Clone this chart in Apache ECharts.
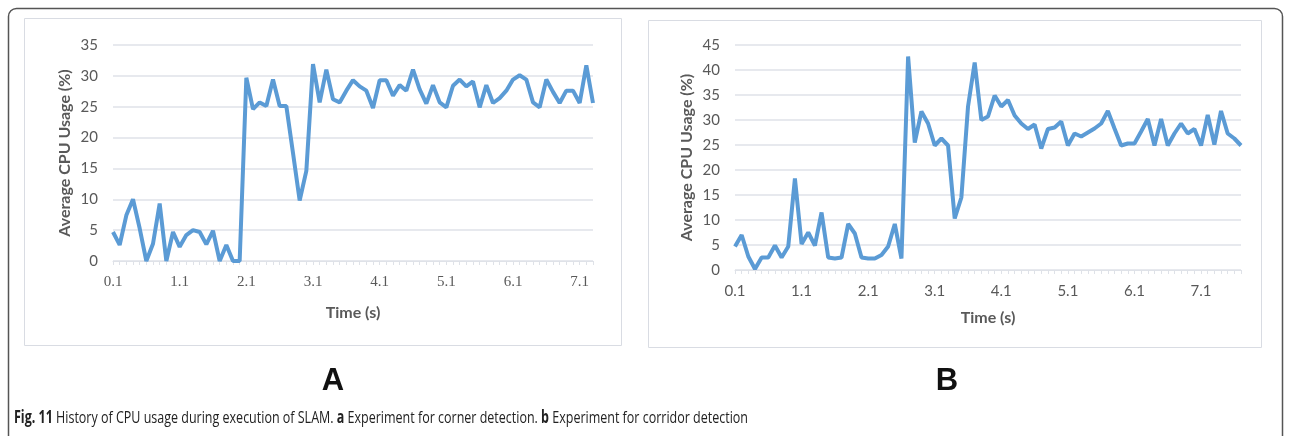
<!DOCTYPE html>
<html>
<head>
<meta charset="utf-8">
<title>CPU usage during SLAM</title>
<script src="https://cdn.jsdelivr.net/npm/echarts@6/dist/echarts.min.js"></script>
<style>
  html, body { margin: 0; padding: 0; background: #fff; }
  #chart { width: 1291px; height: 436px; }
</style>
</head>
<body>
<div id="chart"></div>
<script>
// time axis (s) and CPU usage (%) for the two experiments
const timesA = ['0.1', '0.2', '0.3', '0.4', '0.5', '0.6', '0.7', '0.8', '0.9', '1.0',
  '1.1', '1.2', '1.3', '1.4', '1.5', '1.6', '1.7', '1.8', '1.9', '2.0',
  '2.1', '2.2', '2.3', '2.4', '2.5', '2.6', '2.7', '2.8', '2.9', '3.0',
  '3.1', '3.2', '3.3', '3.4', '3.5', '3.6', '3.7', '3.8', '3.9', '4.0',
  '4.1', '4.2', '4.3', '4.4', '4.5', '4.6', '4.7', '4.8', '4.9', '5.0',
  '5.1', '5.2', '5.3', '5.4', '5.5', '5.6', '5.7', '5.8', '5.9', '6.0',
  '6.1', '6.2', '6.3', '6.4', '6.5', '6.6', '6.7', '6.8', '6.9', '7.0',
  '7.1', '7.2', '7.3']
const cpuA = [4.7, 2.6, 7.4, 10, 5.3, 0, 2.8, 9.3, 0, 4.7,
  2.3, 4.2, 5, 4.7, 2.7, 4.9, 0, 2.6, 0, 0,
  29.7, 24.6, 25.7, 25.1, 29.4, 25.1, 25.1, 17.5, 9.8, 14.6,
  31.9, 25.7, 31, 26.2, 25.7, 27.6, 29.3, 28.3, 27.6, 24.8,
  29.3, 29.3, 26.8, 28.5, 27.6, 31, 27.8, 25.5, 28.5, 25.7,
  24.9, 28.4, 29.4, 28.3, 29.1, 24.9, 28.5, 25.6, 26.4, 27.6,
  29.4, 30.1, 29.4, 25.7, 24.9, 29.4, 27.4, 25.6, 27.6, 27.6,
  25.6, 31.7, 25.6]

const timesB = ['0.1', '0.2', '0.3', '0.4', '0.5', '0.6', '0.7', '0.8', '0.9', '1.0',
  '1.1', '1.2', '1.3', '1.4', '1.5', '1.6', '1.7', '1.8', '1.9', '2.0',
  '2.1', '2.2', '2.3', '2.4', '2.5', '2.6', '2.7', '2.8', '2.9', '3.0',
  '3.1', '3.2', '3.3', '3.4', '3.5', '3.6', '3.7', '3.8', '3.9', '4.0',
  '4.1', '4.2', '4.3', '4.4', '4.5', '4.6', '4.7', '4.8', '4.9', '5.0',
  '5.1', '5.2', '5.3', '5.4', '5.5', '5.6', '5.7', '5.8', '5.9', '6.0',
  '6.1', '6.2', '6.3', '6.4', '6.5', '6.6', '6.7', '6.8', '6.9', '7.0',
  '7.1', '7.2', '7.3', '7.4', '7.5', '7.6', '7.7']
const cpuB = [4.7, 7, 2.7, 0.2, 2.5, 2.5, 4.9, 2.5, 4.7, 18.3,
  5.2, 7.5, 4.9, 11.5, 2.5, 2.3, 2.5, 9.2, 7.3, 2.5,
  2.3, 2.3, 3, 4.7, 9.2, 2.3, 42.7, 25.5, 31.7, 29.3,
  24.9, 26.3, 24.9, 10.3, 14.5, 32.7, 41.5, 30, 30.7, 34.9,
  32.7, 34, 30.9, 29.3, 28.2, 29.1, 24.3, 28.2, 28.5, 29.7,
  24.9, 27.3, 26.7, 27.5, 28.3, 29.3, 31.8, 28.3, 24.9, 25.3,
  25.3, 27.7, 30.2, 24.9, 30.2, 24.9, 27.3, 29.3, 27.3, 28.2,
  24.9, 31, 25.1, 31.8, 27.3, 26.3, 24.9]

const xName = 'Time (s)'
const yName = 'Average CPU Usage (%)'

const lineColor = '#5b9bd5'
const textColor = '#595959'
const gridColor = '#dfe2e8'
const panelColor = '#d9dce3'

function xAxisFor(gridIndex, data, labelFont, nameGap) {
  return {
    type: 'category',
    gridIndex,
    data,
    boundaryGap: false,
    name: xName,
    nameLocation: 'middle',
    nameGap,
    nameTextStyle: { color: textColor, fontFamily: 'Lato', fontWeight: 'bold', fontSize: 16 },
    axisLine: { lineStyle: { color: gridColor, width: 1 } },
    axisTick: { show: true, interval: 0, length: 4, lineStyle: { color: gridColor } },
    axisLabel: { interval: 9, margin: 14, color: textColor, fontFamily: labelFont, fontSize: 15 },
    splitLine: { show: false }
  }
}

function yAxisFor(gridIndex, max) {
  return {
    type: 'value',
    gridIndex,
    min: 0,
    max,
    interval: 5,
    name: yName,
    nameLocation: 'middle',
    nameGap: 40,
    nameTextStyle: { color: textColor, fontFamily: 'Lato', fontWeight: 'bold', fontSize: 16 },
    axisLine: { show: false },
    axisTick: { show: false },
    axisLabel: { margin: 15, color: textColor, fontFamily: 'Lato', fontSize: 15 },
    splitLine: { lineStyle: { color: gridColor, width: 1.5 } }
  }
}

const chart = echarts.init(document.getElementById('chart'))
chart.setOption({
  animation: false,
  grid: [
    { left: 113, top: 45, width: 480, height: 216 },
    { left: 735, top: 45, width: 506, height: 225 }
  ],
  xAxis: [xAxisFor(0, timesA, 'Liberation Serif', 44), xAxisFor(1, timesB, 'Lato', 40)],
  yAxis: [yAxisFor(0, 35), yAxisFor(1, 45)],
  series: [
    {
      type: 'line',
      xAxisIndex: 0,
      yAxisIndex: 0,
      data: cpuA,
      symbol: 'none',
      lineStyle: { color: lineColor, width: 4 }
    },
    {
      type: 'line',
      xAxisIndex: 1,
      yAxisIndex: 1,
      data: cpuB,
      symbol: 'none',
      lineStyle: { color: lineColor, width: 4 }
    }
  ],
  graphic: [
    {
      type: 'rect',
      z: -1,
      shape: { x: 8.5, y: 8.5, width: 1274, height: 460, r: [8, 8, 0, 0] },
      style: { fill: null, stroke: '#555', lineWidth: 1.5 }
    },
    {
      type: 'rect',
      z: -1,
      shape: { x: 24.5, y: 18.5, width: 597, height: 327 },
      style: { fill: null, stroke: panelColor, lineWidth: 1 }
    },
    {
      type: 'rect',
      z: -1,
      shape: { x: 648.5, y: 20.5, width: 613, height: 327 },
      style: { fill: null, stroke: panelColor, lineWidth: 1 }
    },
    {
      type: 'text',
      x: 333,
      y: 381,
      style: {
        text: 'A',
        fill: '#111',
        font: 'bold 31px "Liberation Sans"',
        textAlign: 'center',
        textVerticalAlign: 'middle'
      }
    },
    {
      type: 'text',
      x: 947,
      y: 381,
      style: {
        text: 'B',
        fill: '#111',
        font: 'bold 31px "Liberation Sans"',
        textAlign: 'center',
        textVerticalAlign: 'middle'
      }
    },
    {
      type: 'text',
      x: 14,
      y: 418,
      scaleX: 0.735,
      style: {
        text: '{b|Fig. 11} History of CPU usage during execution of SLAM. {b|a} Experiment for corner detection. {b|b} Experiment for corridor detection',
        fill: '#222',
        font: '17px "Open Sans"',
        textVerticalAlign: 'middle',
        rich: {
          b: { fontWeight: 'bold', fontSize: 17, fontFamily: 'Open Sans', fill: '#222' }
        }
      }
    }
  ]
})
</script>
</body>
</html>
